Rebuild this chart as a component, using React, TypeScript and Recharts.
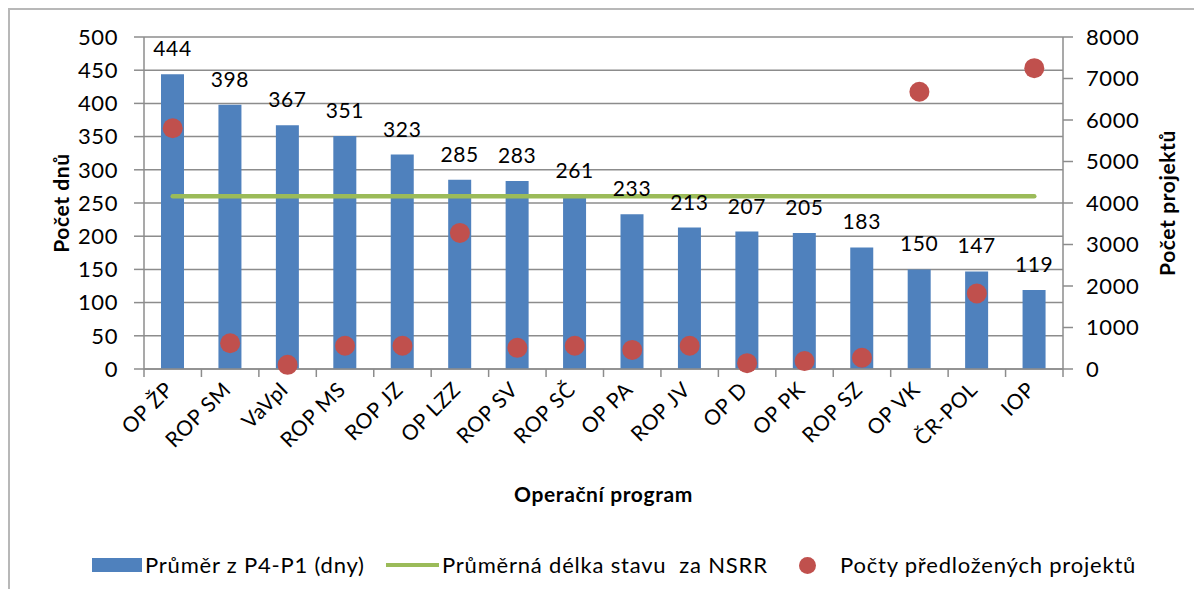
import {
    ComposedChart,
    Bar,
    Line,
    XAxis,
    YAxis,
    CartesianGrid,
    Legend,
    LabelList,
} from "recharts";

const programs = [
    "OP ŽP", "ROP SM", "VaVpI", "ROP MS", "ROP JZ", "OP LZZ", "ROP SV", "ROP SČ",
    "OP PA", "ROP JV", "OP D", "OP PK", "ROP SZ", "OP VK", "ČR-POL", "IOP",
];
const avgDays = [444, 398, 367, 351, 323, 285, 283, 261, 233, 213, 207, 205, 183, 150, 147, 119];
const nsrrAverage = [260, 260, 260, 260, 260, 260, 260, 260, 260, 260, 260, 260, 260, 260, 260, 260];
const projectCounts = [5800, 620, 100, 560, 560, 3280, 510, 560, 460, 560, 140, 190, 270, 6680, 1820, 7250];
const dayTicks = [0, 50, 100, 150, 200, 250, 300, 350, 400, 450, 500];
const projectTicks = [0, 1000, 2000, 3000, 4000, 5000, 6000, 7000, 8000];

const BLUE = "#4f81bd";
const GREEN = "#9bbb59";
const RED = "#c0504d";
const GRID = "#8c8c8c";
const FONT = 21;

const W = 1184;
const H = 579;
const LEFT_W = 134;
const RIGHT_W = 131;
const STEP = (W - LEFT_W - RIGHT_W) / programs.length;

const data = programs.map((name, i) => ({
    name,
    days: avgDays[i],
    nsrr: nsrrAverage[i],
    projects: projectCounts[i],
}));

function CategoryTick(props: any) {
    const { x, y, payload, index } = props;
    const left = x - STEP / 2;
    const tx = x + 2;
    const ty = y + 22;
    return (
        <g>
            <line x1={left} y1={y} x2={left} y2={y + 8} stroke={GRID} strokeWidth={1.5} />
            {index === programs.length - 1 && (
                <line x1={x + STEP / 2} y1={y} x2={x + STEP / 2} y2={y + 8} stroke={GRID} strokeWidth={1.5} />
            )}
            <text
                x={tx}
                y={ty}
                textAnchor="end"
                fontSize={FONT}
                fill="#000"
                transform={`rotate(-45, ${tx}, ${ty})`}
            >
                {payload.value}
            </text>
        </g>
    );
}

function ChartLegend() {
    const item: React.CSSProperties = { position: "absolute", top: 0, lineHeight: "40px", whiteSpace: "pre" };
    return (
        <div style={{ position: "relative", width: W, height: 40, fontSize: 22, letterSpacing: "0.8px", color: "#000" }}>
            <span style={{ position: "absolute", left: 82, top: 13, width: 50, height: 14, background: BLUE }} />
            <span style={{ ...item, left: 135 }}>Průměr z P4-P1 (dny)</span>
            <span style={{ position: "absolute", left: 376, top: 18, width: 53, height: 4, background: GREEN }} />
            <span style={{ ...item, left: 432 }}>Průměrná délka stavu  za NSRR</span>
            <span style={{ position: "absolute", left: 789, top: 12, width: 17, height: 17, borderRadius: "50%", background: RED }} />
            <span style={{ ...item, left: 830 }}>Počty předložených projektů</span>
        </div>
    );
}

export default function App() {
    return (
        <div
            style={{
                width: 1186,
                height: 581,
                borderLeft: "2px solid #b8b8b8",
                borderTop: "2px solid #b8b8b8",
                fontFamily: "Lato, sans-serif",
                letterSpacing: "0.6px",
                background: "#fff",
                boxSizing: "border-box",
            }}
        >
            <ComposedChart
                width={W}
                height={H}
                data={data}
                margin={{ top: 27, right: 0, left: 0, bottom: 4 }}
            >
                <CartesianGrid vertical={false} stroke={GRID} strokeWidth={1.5} />
                <XAxis
                    dataKey="name"
                    interval={0}
                    height={176}
                    tickLine={false}
                    tickSize={0}
                    tickMargin={0}
                    axisLine={{ stroke: GRID, strokeWidth: 1.5 }}
                    tick={<CategoryTick />}
                    label={({ viewBox }: any) => (
                        <text
                            x={viewBox.x + viewBox.width / 2}
                            y={viewBox.y + 124}
                            textAnchor="middle"
                            dominantBaseline="central"
                            fontSize={FONT}
                            fontWeight="bold"
                            fill="#000"
                        >
                            Operační program
                        </text>
                    )}
                />
                <YAxis
                    width={LEFT_W}
                    domain={[0, 500]}
                    ticks={dayTicks}
                    interval={0}
                    tickSize={10}
                    tickMargin={16}
                    tick={{ fill: "#000", fontSize: 22 }}
                    tickLine={{ stroke: GRID, strokeWidth: 1.5 }}
                    axisLine={{ stroke: GRID, strokeWidth: 1.5 }}
                    label={({ viewBox }: any) => {
                        const lx = viewBox.x + 50;
                        const ly = viewBox.y + viewBox.height / 2;
                        return (
                            <text
                                x={lx}
                                y={ly}
                                textAnchor="middle"
                                dominantBaseline="central"
                                fontSize={FONT}
                                fontWeight="bold"
                                fill="#000"
                                transform={`rotate(-90, ${lx}, ${ly})`}
                            >
                                Počet dnů
                            </text>
                        );
                    }}
                />
                <YAxis
                    yAxisId="right"
                    orientation="right"
                    width={RIGHT_W}
                    domain={[0, 8000]}
                    ticks={projectTicks}
                    interval={0}
                    tickSize={10}
                    tickMargin={13}
                    tick={{ fill: "#000", fontSize: 22 }}
                    tickLine={{ stroke: GRID, strokeWidth: 1.5 }}
                    axisLine={{ stroke: GRID, strokeWidth: 1.5 }}
                    label={({ viewBox }: any) => {
                        const lx = viewBox.x + viewBox.width - 28;
                        const ly = viewBox.y + viewBox.height / 2;
                        return (
                            <text
                                x={lx}
                                y={ly}
                                textAnchor="middle"
                                dominantBaseline="central"
                                fontSize={FONT}
                                fontWeight="bold"
                                fill="#000"
                                transform={`rotate(-90, ${lx}, ${ly})`}
                            >
                                Počet projektů
                            </text>
                        );
                    }}
                />
                <Legend verticalAlign="bottom" height={40} width={W} wrapperStyle={{ left: 0 }} content={ChartLegend} />
                <Bar dataKey="days" fill={BLUE} barSize={23} isAnimationActive={false}>
                    <LabelList dataKey="days" position="top" offset={18} fill="#000" fontSize={FONT} />
                </Bar>
                <Line
                    dataKey="nsrr"
                    stroke={GREEN}
                    strokeWidth={4.5}
                    strokeLinecap="round"
                    dot={false}
                    activeDot={false}
                    isAnimationActive={false}
                />
                <Line
                    dataKey="projects"
                    yAxisId="right"
                    stroke="none"
                    dot={{ r: 10, fill: RED, stroke: "none" }}
                    activeDot={false}
                    isAnimationActive={false}
                />
            </ComposedChart>
        </div>
    );
}
